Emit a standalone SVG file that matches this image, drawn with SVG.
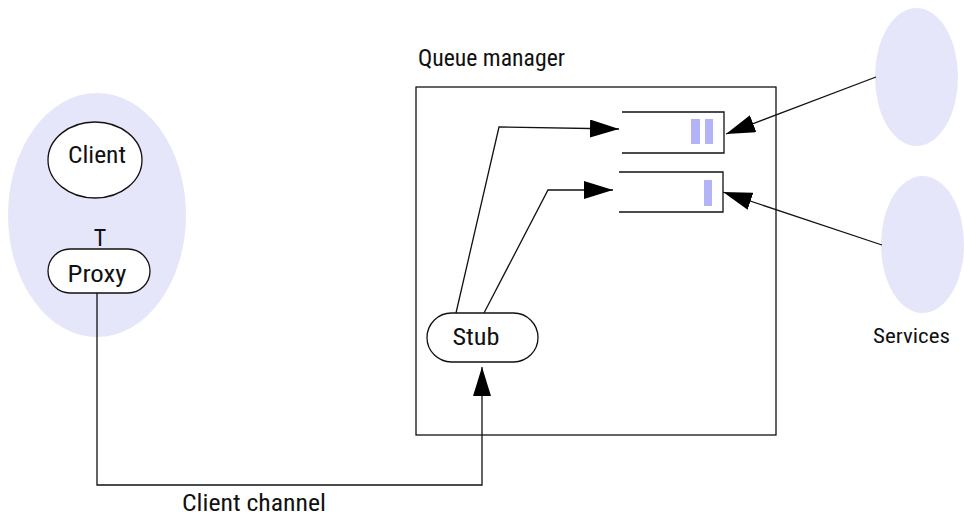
<svg xmlns="http://www.w3.org/2000/svg" width="964" height="516" viewBox="0 0 964 516">
<style>
.t{font-family:"Liberation Sans Narrow","Roboto Condensed",Roboto,"DejaVu Sans Condensed",sans-serif;font-size:24px;fill:#111}
.blob{fill:#e6e6fb;stroke:none}
.node{fill:#fff;stroke:#111;stroke-width:1.3}
.ln{fill:none;stroke:#111;stroke-width:1.3}
.bar{fill:#b3b3f8}
</style>
<defs>
<marker id="ah" viewBox="0 0 29 18" refX="29" refY="9" markerWidth="29" markerHeight="18" markerUnits="userSpaceOnUse" orient="auto">
<path d="M0,0 L29,9 L0,18 z" fill="#000"/>
</marker>
</defs>
<g id="client-process">
<ellipse class="blob" cx="97" cy="215" rx="89" ry="122"/>
</g>
<g id="client">
<ellipse class="node" cx="95" cy="160" rx="47" ry="38"/>
<text class="t" x="97" y="163" text-anchor="middle" textLength="58" lengthAdjust="spacingAndGlyphs">Client</text>
</g>
<g id="t-label">
<text class="t" x="100" y="246" text-anchor="middle">T</text>
</g>
<g id="proxy">
<rect class="node" x="48" y="249" width="102" height="44" rx="22"/>
<text class="t" x="97" y="282" text-anchor="middle" textLength="59" lengthAdjust="spacingAndGlyphs">Proxy</text>
</g>
<g id="queue-manager">
<rect class="ln" x="416" y="87" width="360" height="348"/>
<text class="t" x="418" y="66" textLength="147" lengthAdjust="spacingAndGlyphs">Queue manager</text>
</g>
<g id="queue1">
<path class="ln" d="M622,112 H724 V153 H622"/>
<rect class="bar" x="691" y="119" width="9" height="25"/>
<rect class="bar" x="705" y="119" width="8" height="25"/>
</g>
<g id="queue2">
<path class="ln" d="M619,172 H723 V212 H619"/>
<rect class="bar" x="704" y="180" width="8" height="26"/>
</g>
<g id="stub">
<rect class="node" x="427" y="313" width="111" height="49" rx="24.5"/>
<text class="t" x="476" y="345" text-anchor="middle" textLength="47" lengthAdjust="spacingAndGlyphs">Stub</text>
</g>
<g id="service1">
<ellipse class="blob" cx="916.5" cy="77" rx="41.5" ry="69"/>
</g>
<g id="service2">
<ellipse class="blob" cx="922.5" cy="244.5" rx="41.5" ry="68.5"/>
</g>
<g id="services-label">
<text class="t" x="873" y="343" textLength="77" lengthAdjust="spacingAndGlyphs" style="font-size:21px">Services</text>
</g>
<g id="connectors">
<path class="ln" d="M456,313 L499,127 L619,129" marker-end="url(#ah)"/>
<path class="ln" d="M484,313 L548,190 L613,190" marker-end="url(#ah)"/>
<path class="ln" d="M876,77 L726,134" marker-end="url(#ah)"/>
<path class="ln" d="M882,245 L723,192" marker-end="url(#ah)"/>
<path class="ln" d="M97,293 V485 H482 V367" marker-end="url(#ah)"/>
</g>
<g id="channel-label">
<text class="t" x="182" y="511" textLength="144" lengthAdjust="spacingAndGlyphs" style="font-size:23px">Client channel</text>
</g>
</svg>
